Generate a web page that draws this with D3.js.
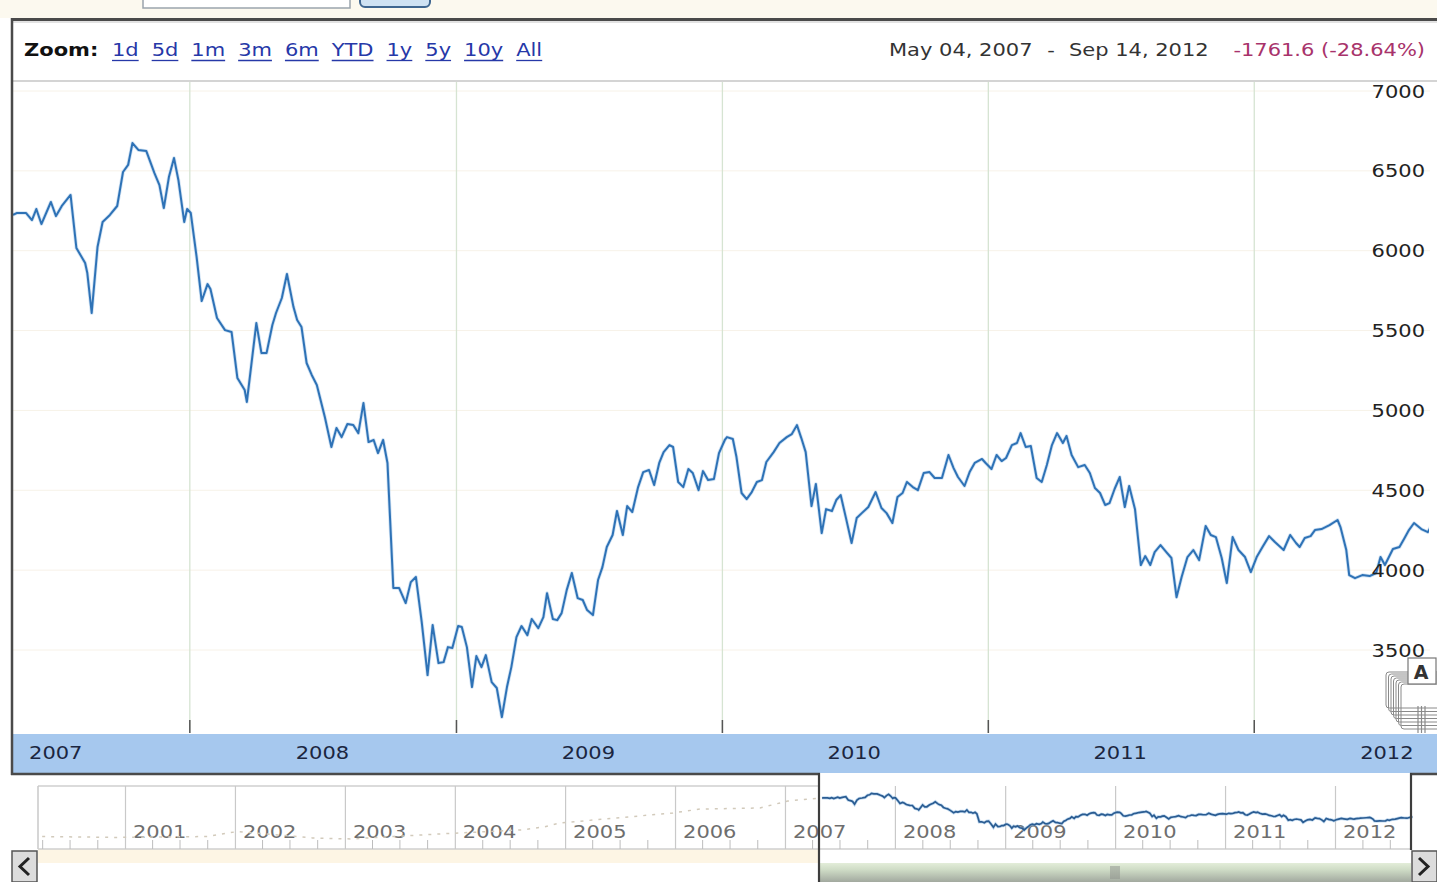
<!DOCTYPE html>
<html><head><meta charset="utf-8">
<script src="https://cdn.jsdelivr.net/npm/d3@7"></script>
<style>html,body{margin:0;padding:0;background:#fff;overflow:hidden}svg{display:block}</style>
</head><body><svg id="c" width="1437" height="882"></svg>
<script>
// ---------------- DATA ----------------
const dates = ["2007-05-04","2007-05-09","2007-05-22","2007-05-30","2007-06-05","2007-06-12","2007-06-25","2007-07-02","2007-07-10","2007-07-22","2007-07-30","2007-08-11","2007-08-14","2007-08-20","2007-08-28","2007-09-04","2007-09-14","2007-09-24","2007-10-02","2007-10-09","2007-10-15","2007-10-23","2007-11-03","2007-11-14","2007-11-21","2007-11-27","2007-12-04","2007-12-11","2007-12-17","2007-12-25","2007-12-29",
"2008-01-03","2008-01-11","2008-01-18","2008-01-26","2008-01-30","2008-02-08","2008-02-19","2008-02-28","2008-03-07","2008-03-17","2008-03-20","2008-04-02","2008-04-09","2008-04-16","2008-04-24","2008-04-29","2008-05-07","2008-05-14","2008-05-23","2008-05-28","2008-06-03","2008-06-10","2008-06-17","2008-06-24","2008-07-05","2008-07-14","2008-07-21","2008-07-28","2008-08-05","2008-08-13","2008-08-20","2008-08-27","2008-09-03","2008-09-10","2008-09-16","2008-09-23","2008-09-29","2008-10-02","2008-10-07","2008-10-15","2008-10-24","2008-10-31","2008-11-07","2008-11-15","2008-11-23","2008-11-30","2008-12-08","2008-12-15","2008-12-21","2008-12-27",
"2009-01-04","2009-01-09","2009-01-16","2009-01-23","2009-01-29","2009-02-05","2009-02-11","2009-02-19","2009-02-26","2009-03-05","2009-03-12","2009-03-18","2009-03-25","2009-04-01","2009-04-09","2009-04-15","2009-04-24","2009-05-01","2009-05-06","2009-05-14","2009-05-20","2009-05-26","2009-06-02","2009-06-09","2009-06-17","2009-06-24","2009-06-30","2009-07-08","2009-07-15","2009-07-21","2009-07-27","2009-08-04","2009-08-10","2009-08-18","2009-08-24","2009-08-31","2009-09-08","2009-09-15","2009-09-23","2009-09-30","2009-10-07","2009-10-13","2009-10-21","2009-10-26","2009-11-02","2009-11-09","2009-11-16","2009-11-22","2009-11-30","2009-12-06","2009-12-13","2009-12-21","2009-12-28",
"2010-01-05","2010-01-08","2010-01-16","2010-01-21","2010-01-28","2010-02-04","2010-02-11","2010-02-18","2010-02-25","2010-03-03","2010-03-13","2010-03-21","2010-03-31","2010-04-07","2010-04-14","2010-04-20","2010-04-26","2010-05-04","2010-05-10","2010-05-18","2010-05-24","2010-06-01","2010-06-07","2010-06-13","2010-06-20","2010-06-28","2010-07-05","2010-07-12","2010-07-21","2010-07-31","2010-08-08","2010-08-15","2010-08-23","2010-08-30","2010-09-06","2010-09-12","2010-09-20","2010-09-27","2010-10-05","2010-10-13","2010-10-20","2010-10-30","2010-11-08","2010-11-15","2010-11-21","2010-11-30","2010-12-07","2010-12-14","2010-12-24","2010-12-29",
"2011-01-06","2011-01-13","2011-01-20","2011-01-26","2011-02-03","2011-02-10","2011-02-15","2011-02-22","2011-03-01","2011-03-09","2011-03-16","2011-03-23","2011-03-30","2011-04-06","2011-04-14","2011-04-19","2011-04-26","2011-05-05","2011-05-14","2011-05-21","2011-05-28","2011-06-04","2011-06-11","2011-06-17","2011-06-24","2011-07-01","2011-07-08","2011-07-14","2011-07-22","2011-07-30","2011-08-05","2011-08-12","2011-08-18","2011-08-26","2011-09-03","2011-09-10","2011-09-17","2011-09-24","2011-10-02","2011-10-10","2011-10-18","2011-10-27","2011-11-03","2011-11-10","2011-11-18","2011-11-25","2011-12-03","2011-12-11","2011-12-20","2011-12-28",
"2012-01-05","2012-01-13","2012-01-22","2012-01-30","2012-02-11","2012-02-20","2012-02-28","2012-03-04","2012-03-11","2012-03-19","2012-03-25","2012-04-03","2012-04-14","2012-04-25","2012-04-29","2012-05-07","2012-05-11","2012-05-19","2012-05-29","2012-06-08","2012-06-17","2012-06-23","2012-06-29","2012-07-10","2012-07-19","2012-07-26","2012-08-01","2012-08-08","2012-08-18","2012-08-27","2012-09-14"];
const closes = [6224,6236,6236,6192,6261,6167,6305,6217,6280,6349,6017,5923,5860,5610,6023,6180,6224,6280,6493,6537,6674,6631,6624,6487,6411,6267,6461,6580,6443,6180,6261,
6236,5961,5685,5791,5760,5579,5503,5491,5203,5128,5053,5547,5359,5359,5535,5610,5704,5854,5647,5566,5522,5297,5222,5159,4959,4771,4890,4833,4915,4909,4858,5046,4802,4815,4733,4815,4671,4376,3888,3888,3794,3925,3957,3675,3343,3656,3418,3424,3518,3512,
3650,3644,3518,3268,3462,3393,3468,3299,3262,3080,3268,3393,3581,3650,3593,3694,3637,3706,3856,3694,3687,3731,3875,3982,3825,3813,3750,3719,3938,4019,4145,4220,4370,4220,4401,4364,4520,4614,4627,4533,4671,4739,4783,4771,4552,4520,4633,4608,4501,4620,4564,4570,4733,
4815,4833,4821,4708,4483,4445,4489,4552,4564,4677,4739,4796,4833,4852,4908,4827,4739,4401,4539,4232,4382,4370,4439,4470,4332,4170,4326,4357,4395,4489,4389,4357,4295,4458,4483,4552,4520,4501,4608,4614,4577,4577,4721,4639,4583,4527,4614,4671,4696,4671,
4633,4721,4683,4702,4783,4796,4858,4771,4777,4577,4552,4658,4783,4858,4796,4840,4721,4645,4658,4608,4514,4483,4408,4420,4508,4583,4395,4527,4382,4032,4088,4032,4113,4157,4113,4076,3831,3957,4082,4126,4063,4276,4220,4207,4076,3919,4207,4126,4082,3988,
4082,4145,4213,4176,4126,4220,4170,4145,4201,4213,4251,4257,4282,4314,4270,4126,3969,3950,3969,3963,3982,4082,4032,4132,4145,4201,4251,4295,4257,4238,4389];

// faint pre-2007 history shown in the navigator
const histDates = ["2000-04-01","2000-12-01","2001-10-01","2002-01-10","2002-09-15","2003-01-20","2003-11-10","2004-08-15","2004-10-25","2004-12-15","2005-09-05","2005-12-25","2006-03-25","2006-10-10","2007-01-10","2007-05-04"];
const histCloses = [2440,2350,2440,2935,2300,2200,2690,3100,3400,3770,4460,4750,5140,5240,5930,6224];

const yTicks = [3500,4000,4500,5000,5500,6000,6500,7000];
const zoomLinks = ["1d","5d","1m","3m","6m","YTD","1y","5y","10y","All"];
const bandYears = [2007,2008,2009,2010,2011,2012];
const navYears = [2001,2002,2003,2004,2005,2006,2007,2008,2009,2010,2011,2012];
const rangeStart = "May 04, 2007", rangeEnd = "Sep 14, 2012", rangeChange = "-1761.6 (-28.64%)";

// ---------------- DRAW ----------------
const FONT = '"DejaVu Sans", Verdana, sans-serif';
const SX = 1.2;
const parse = d3.timeParse("%Y-%m-%d");
const series = dates.map((d,i)=>({date:parse(d), v:closes[i]}));
const hist = histDates.map((d,i)=>({date:parse(d), v:histCloses[i]}));
const svg = d3.select("#c");

function label(g, x, y, s, o={}) {
  return g.append("text").attr("transform",`translate(${x},${y}) scale(${SX},1)`)
    .attr("text-anchor", o.anchor||"start").attr("dy","0.35em")
    .style("font-family", FONT).style("font-size",(o.size||17.5)+"px")
    .style("font-weight", o.weight||"normal").attr("fill", o.color||"#222").text(s);
}

svg.append("rect").attr("width",1437).attr("height",882).attr("fill","#fff");
// top strip
svg.append("rect").attr("x",0).attr("y",0).attr("width",1437).attr("height",18).attr("fill","#fcf9ef");
svg.append("rect").attr("x",143).attr("y",-20).attr("width",207).attr("height",28).attr("fill","#fff").attr("stroke","#9aa4ad").attr("stroke-width",1.5);
svg.append("rect").attr("x",360).attr("y",-20).attr("width",70).attr("height",27).attr("rx",5).attr("fill","#cfe2f3").attr("stroke","#3f6690").attr("stroke-width",2);

// header
svg.append("line").attr("x1",11).attr("x2",1437).attr("y1",19.5).attr("y2",19.5).attr("stroke","#4a4a4a").attr("stroke-width",3);
svg.append("line").attr("x1",11).attr("x2",1437).attr("y1",22).attr("y2",22).attr("stroke","#d8d8d8").attr("stroke-width",1.5);
svg.append("line").attr("x1",13).attr("x2",1437).attr("y1",81).attr("y2",81).attr("stroke","#d4d4d4").attr("stroke-width",2);
label(svg, 24, 50, "Zoom:", {weight:"bold", color:"#111"});
let lx = 112;
zoomLinks.forEach(s => {
  const t = label(svg, lx, 50, s, {color:"#2638a8"});
  const w = t.node().getComputedTextLength()*SX;
  svg.append("line").attr("x1",lx).attr("x2",lx+w).attr("y1",60.5).attr("y2",60.5).attr("stroke","#2638a8").attr("stroke-width",1.3);
  lx += w + 13;
});
label(svg, 889, 50, rangeStart, {color:"#333"});
label(svg, 1051, 50, "-", {color:"#333", anchor:"middle"});
label(svg, 1069, 50, rangeEnd, {color:"#333"});
label(svg, 1425, 50, rangeChange, {color:"#a8336b", anchor:"end"});

// scales
const x = d3.scaleTime().domain([parse("2007-05-04"), parse("2012-09-14")]).range([13, 1441]);
const y = d3.scaleLinear().domain([3500, 7000]).range([650, 91]);
const plotTop = 82, plotBottom = 733;
const jan1s = bandYears.slice(1).map(yr => new Date(yr,0,1));

// faint horizontal grid
svg.append("g").selectAll("line").data(yTicks).join("line")
  .attr("x1",13).attr("x2",1430).attr("y1",d=>y(d)).attr("y2",d=>y(d))
  .attr("stroke","#f7f2e8").attr("stroke-width",1);

// vertical grid via axis
const gridAxis = svg.append("g").attr("transform",`translate(0,${plotBottom})`)
  .call(d3.axisBottom(x).tickValues(jan1s).tickSize(-(plotBottom-plotTop)).tickFormat(""));
gridAxis.select(".domain").remove();
gridAxis.selectAll("line").attr("stroke","#d6e4d2").attr("stroke-width",1.3);
const tickAxis = svg.append("g").attr("transform",`translate(0,${plotBottom})`)
  .call(d3.axisBottom(x).tickValues(jan1s).tickSize(-13).tickFormat(""));
tickAxis.select(".domain").remove();
tickAxis.selectAll("line").attr("stroke","#555").attr("stroke-width",1.5);

// line
svg.append("clipPath").attr("id","plotclip").append("rect").attr("x",13).attr("y",plotTop).attr("width",1416).attr("height",plotBottom-plotTop);
const line = d3.line().x(d=>x(d.date)).y(d=>y(d.v));
svg.append("path").datum(series).attr("clip-path","url(#plotclip)")
  .attr("d",line).attr("fill","none").attr("stroke","#a9cbe9").attr("stroke-width",3.6).attr("stroke-linejoin","round").attr("opacity",0.55);
svg.append("path").datum(series).attr("clip-path","url(#plotclip)")
  .attr("d",line).attr("fill","none").attr("stroke","#2e72b6").attr("stroke-width",2).attr("stroke-linejoin","round");

// annotation flags near right edge (drawn under the axis labels)
const ann = svg.append("g");
for (let i=0;i<7;i++) {
  ann.append("rect").attr("x",1386+i*2.5).attr("y",672+i*2).attr("width",60).attr("height",36+i*1.5)
    .attr("rx",3).attr("fill","none").attr("stroke","#8a8a8a").attr("stroke-width",1);
}
[1418,1421.5,1425].forEach(v=>ann.append("line").attr("x1",v).attr("x2",v).attr("y1",706).attr("y2",733).attr("stroke","#8a8a8a").attr("stroke-width",1.2));
ann.append("rect").attr("x",1408).attr("y",658).attr("width",28).attr("height",26).attr("fill","#fff").attr("stroke","#777").attr("stroke-width",1.2);
ann.append("text").attr("x",1421).attr("y",679).attr("text-anchor","middle").style("font-family",FONT).style("font-size","19px").style("font-weight","bold").attr("fill","#333").text("A");

// y labels via axis
const yAxis = svg.append("g").attr("transform","translate(1425,0)")
  .call(d3.axisLeft(y).tickValues(yTicks).tickSize(0).tickPadding(0).tickFormat(d3.format("d")));
yAxis.select(".domain").remove();
yAxis.selectAll("text").attr("x",0).attr("dy","0.35em").attr("transform",`scale(${SX},1)`)
  .attr("text-anchor","end").attr("fill","#222").style("font-family",FONT).style("font-size","17.5px");

// blue band with years
svg.append("rect").attr("x",13).attr("y",plotBottom+1).attr("width",1424).attr("height",39).attr("fill","#a6c8ee");
const bandAxis = svg.append("g").attr("transform","translate(0,753)")
  .call(d3.axisBottom(x).tickValues(bandYears.map(yr=>new Date(yr,6,1))).tickSize(0).tickPadding(0).tickFormat(d3.timeFormat("%Y")));
bandAxis.select(".domain").remove();
bandAxis.selectAll("text").attr("y",0).attr("x",0).attr("dy","0.35em").attr("transform",`scale(${SX},1)`)
  .attr("fill","#1b2640").style("font-family",FONT).style("font-size","17.5px");

// frame
svg.append("line").attr("x1",12).attr("x2",12).attr("y1",18).attr("y2",775).attr("stroke","#4a4a4a").attr("stroke-width",2.5);
svg.append("line").attr("x1",11).attr("x2",820).attr("y1",774).attr("y2",774).attr("stroke","#4a4a4a").attr("stroke-width",2.5);
svg.append("line").attr("x1",1410).attr("x2",1437).attr("y1",774).attr("y2",774).attr("stroke","#4a4a4a").attr("stroke-width",2.5);

// ---------------- NAVIGATOR ----------------
const nx = d3.scaleTime().domain([new Date(2001,0,1), new Date(2012,0,1)]).range([125, 1335]);
const ny = d3.scaleLinear().domain([3080, 6224]).range([830, 798]);
const navTop = 786, navBottom = 849, winL = 819, winR = 1411;

svg.append("rect").attr("x",38).attr("y",navBottom).attr("width",winL-38).attr("height",14).attr("fill","#fdf5e4");
svg.append("line").attr("x1",38).attr("x2",winL).attr("y1",navTop).attr("y2",navTop).attr("stroke","#cfcfcf").attr("stroke-width",1.5);
svg.append("line").attr("x1",38).attr("x2",38).attr("y1",navTop).attr("y2",navBottom).attr("stroke","#c8c8c8").attr("stroke-width",1.5);
svg.append("line").attr("x1",38).attr("x2",winR).attr("y1",navBottom).attr("y2",navBottom).attr("stroke","#cfcfcf").attr("stroke-width",1.5);

const navYearAxis = svg.append("g").attr("transform",`translate(0,${navBottom})`)
  .call(d3.axisBottom(nx).tickValues(navYears.map(yr=>new Date(yr,0,1))).tickSize(-(navBottom-navTop)).tickFormat(""));
navYearAxis.select(".domain").remove();
navYearAxis.selectAll("line").attr("stroke","#c9c9c9").attr("stroke-width",1.2);
const quarters = d3.timeMonth.every(3).range(new Date(2000,3,1), new Date(2012,9,1)).filter(d=>d.getMonth()!==0 && nx(d)>40);
const navQAxis = svg.append("g").attr("transform",`translate(0,${navBottom})`)
  .call(d3.axisBottom(nx).tickValues(quarters).tickSize(-9).tickFormat(""));
navQAxis.select(".domain").remove();
navQAxis.selectAll("line").attr("stroke","#bdbdbd").attr("stroke-width",1);
navYears.forEach(yr => label(svg, nx(new Date(yr,0,1))+8, 832, String(yr), {color:"#6e6e6e"}));

svg.append("path").datum(hist).attr("d", d3.line().x(d=>nx(d.date)).y(d=>ny(d.v)))
  .attr("fill","none").attr("stroke","#d2cabb").attr("stroke-width",1.5).attr("stroke-dasharray","3,6");
svg.append("path").datum(series).attr("d", d3.line().x(d=>nx(d.date)).y(d=>ny(d.v)))
  .attr("fill","none").attr("stroke","#9cc3e6").attr("stroke-width",3.2).attr("opacity",0.6);
svg.append("path").datum(series).attr("d", d3.line().x(d=>nx(d.date)).y(d=>ny(d.v)))
  .attr("fill","none").attr("stroke","#2a5c92").attr("stroke-width",1.7);

// scroll thumb
const defs = svg.append("defs");
const grad = defs.append("linearGradient").attr("id","thumb").attr("x1",0).attr("x2",0).attr("y1",0).attr("y2",1);
grad.append("stop").attr("offset","0%").attr("stop-color","#e3edd9");
grad.append("stop").attr("offset","35%").attr("stop-color","#cfdcc6");
grad.append("stop").attr("offset","100%").attr("stop-color","#a2a99f");
svg.append("rect").attr("x",winL).attr("y",863).attr("width",winR-winL).attr("height",19).attr("fill","url(#thumb)");
[-4,-2,0,2,4].forEach(o=>svg.append("line").attr("x1",(winL+winR)/2+o).attr("x2",(winL+winR)/2+o).attr("y1",866).attr("y2",879).attr("stroke","#8d918b").attr("stroke-width",1));

svg.append("line").attr("x1",winL).attr("x2",winL).attr("y1",773).attr("y2",882).attr("stroke","#3d3d3d").attr("stroke-width",2.2);
svg.append("line").attr("x1",winR).attr("x2",winR).attr("y1",773).attr("y2",850).attr("stroke","#3d3d3d").attr("stroke-width",2.2);

// scroll buttons
svg.append("rect").attr("x",12).attr("y",851).attr("width",25).attr("height",31).attr("fill","#dcdcdc").attr("stroke","#555").attr("stroke-width",1.5);
svg.append("rect").attr("x",1412).attr("y",851).attr("width",25).attr("height",31).attr("fill","#dcdcdc").attr("stroke","#555").attr("stroke-width",1.5);
svg.append("path").attr("d","M29,858 L20,866.5 L29,875").attr("fill","none").attr("stroke","#222").attr("stroke-width",3);
svg.append("path").attr("d","M1419,858 L1428,866.5 L1419,875").attr("fill","none").attr("stroke","#222").attr("stroke-width",3);
</script></body></html>
